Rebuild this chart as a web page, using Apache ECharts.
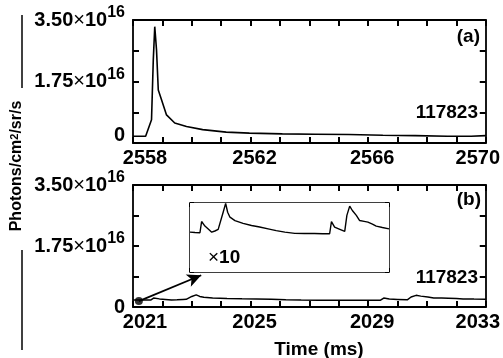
<!DOCTYPE html>
<html>
<head>
<meta charset="utf-8">
<script src="https://cdn.jsdelivr.net/npm/echarts@6/dist/echarts.min.js"></script>
<style>
html,body{margin:0;padding:0;background:#fff;}
#c{width:503px;height:358px;}
</style>
</head>
<body>
<div id="c"></div>
<script>
// ---- data ----
var timeA = [2558.0, 2558.43, 2558.63, 2558.69, 2558.74, 2558.80, 2558.86, 2558.97, 2559.14, 2559.42, 2559.82, 2560.37, 2561.17, 2561.96, 2563.08, 2564.2, 2565.34, 2566.5, 2567.6, 2568.7, 2569.5, 2570.0];
var fluxA = [0.19e16, 0.19e16, 0.66e16, 2.36e16, 3.31e16, 2.65e16, 1.51e16, 1.23e16, 0.80e16, 0.57e16, 0.47e16, 0.38e16, 0.31e16, 0.28e16, 0.26e16, 0.25e16, 0.24e16, 0.22e16, 0.21e16, 0.19e16, 0.19e16, 0.21e16];
var timeB = [2021.0, 2021.3, 2021.6, 2021.7, 2021.9, 2022.1, 2022.31, 2022.5, 2022.7, 2022.81, 2023.0, 2023.15, 2023.27, 2023.41, 2023.71, 2024.2, 2024.71, 2025.2, 2025.71, 2026.2, 2026.72, 2027.32, 2027.9, 2028.5, 2029.0, 2029.42, 2029.53, 2029.72, 2030.0, 2030.33, 2030.46, 2030.63, 2030.79, 2031.03, 2031.23, 2031.5, 2031.73, 2032.0, 2032.23, 2032.6, 2033.0];
var fluxB = [0.202e16, 0.200e16, 0.199e16, 0.256e16, 0.233e16, 0.218e16, 0.202e16, 0.208e16, 0.216e16, 0.219e16, 0.303e16, 0.348e16, 0.303e16, 0.278e16, 0.261e16, 0.247e16, 0.236e16, 0.228e16, 0.219e16, 0.210e16, 0.202e16, 0.196e16, 0.195e16, 0.195e16, 0.194e16, 0.194e16, 0.256e16, 0.228e16, 0.218e16, 0.206e16, 0.287e16, 0.334e16, 0.312e16, 0.287e16, 0.261e16, 0.257e16, 0.253e16, 0.243e16, 0.233e16, 0.226e16, 0.219e16];
var xRangeA = [2558, 2570];
var xRangeB = [2021, 2033];
var yRange = [0, 3.5e16];
var yRangeInset = [0, 0.35e16];
var xLabelStep = 4;
var markerPoint = [2021.2, 0.17e16];
var arrowEnd = [2023.32, 0.91e16];
var shotLabel = '117823';
var panelLabels = ['(a)', '(b)'];
var xTitle = 'Time (ms)';

function pairs(t, v){ return t.map(function(x,i){ return [x, v[i]]; }); }

var FONT = '"Liberation Sans", Arial, Helvetica, sans-serif';
function axLine(w){ return {show:true, onZero:false, lineStyle:{color:'#000', width:w}}; }
function axTick(len, w){ return {show:true, inside:true, length:len, lineStyle:{color:'#000', width:w}}; }

// rich styles giving a vertical offset d (px, + = down) for a label
function richFor(key, d, rich){
  var base = {fontFamily:FONT, color:'#000', fontSize:20, lineHeight:20, verticalAlign:'bottom'};
  var pad = d >= 0 ? [2*d,0,0,0] : [0,0,-2*d,0];
  rich[key+'b'] = Object.assign({}, base, {fontWeight:'bold', padding:pad});
  rich[key+'x'] = Object.assign({}, base, {fontWeight:'normal', padding:pad});
  rich[key+'s'] = {fontFamily:FONT, color:'#000', fontSize:16, fontWeight:'bold', lineHeight:14,
                   verticalAlign:'bottom', padding:[0,0,9,0]};
}
function makeYLabels(offTop, offMid, offZero){
  var rich = {};
  richFor('t', offTop, rich); richFor('m', offMid, rich); richFor('z', offZero, rich);
  var fmt = function(v){
    if (Math.abs(v) < 1) return '{zb|0}';
    if (Math.abs(v - 1.75e16) < 1e12) return '{mb|1.75}{mx|×}{mb|10}{ms|16}';
    if (Math.abs(v - 3.5e16) < 1e12) return '{tb|3.50}{tx|×}{tb|10}{ts|16}';
    return '';
  };
  return {rich:rich, fmt:fmt};
}
var yLabA = makeYLabels(5, 7, -4);
var yLabB = makeYLabels(9, 1, 0);

var xRich = {
  f:{fontFamily:FONT, fontWeight:'bold', fontSize:20, color:'#000', padding:[0,0,0,24]},
  m:{fontFamily:FONT, fontWeight:'bold', fontSize:20, color:'#000', padding:[0,0,0,8]},
  l:{fontFamily:FONT, fontWeight:'bold', fontSize:20, color:'#000', padding:[0,16,0,0]}
};
function mkX(grid, range, pos, labels){
  return {
    type:'value', gridIndex:grid, min:range[0], max:range[1], interval:1, position:pos,
    axisLine:axLine(1.8), splitLine:{show:false}, axisTick:axTick(6, 2),
    axisLabel:{show:labels, margin:5, rich:xRich,
      formatter:function(v){
        var r = Math.round(v);
        if ((r - range[0]) % xLabelStep !== 0) return '';
        var k = r === range[0] ? 'f' : (r === range[1] ? 'l' : 'm');
        return '{' + k + '|' + r + '}';
      }}
  };
}
function mkY(grid, pos, labels, lab){
  return {
    type:'value', gridIndex:grid, min:yRange[0], max:yRange[1], interval:0.875e16, position:pos,
    axisLine:axLine(1.8), splitLine:{show:false}, axisTick:axTick(6, 2),
    axisLabel:{show:labels, margin:8, formatter:lab.fmt, rich:lab.rich}
  };
}
function mkInsetX(pos){
  return {
    type:'value', gridIndex:2, min:xRangeB[0], max:xRangeB[1], interval:2, position:pos,
    axisLine:axLine(1.5), splitLine:{show:false}, axisTick:axTick(4, 2),
    axisLabel:{show:false}
  };
}
function mkInsetY(pos){
  return {
    type:'value', gridIndex:2, min:yRangeInset[0], max:yRangeInset[1], interval:0.0875e16, position:pos,
    axisLine:axLine(1.5), splitLine:{show:false}, axisTick:axTick(4, 2),
    axisLabel:{show:false}
  };
}

var chart = echarts.init(document.getElementById('c'), null, {renderer:'canvas'});
var txt = {fontFamily:FONT, fontWeight:'bold', fontSize:19, fill:'#000'};
function T(x, y, text, align, extra){
  var s = Object.assign({}, txt, {x:x, y:y, text:text, textAlign:align||'left', textVerticalAlign:'middle'}, extra||{});
  return {type:'text', style:s, z:100};
}
chart.setOption({
  animation:false,
  backgroundColor:'#fff',
  grid:[
    {left:133, top:20, width:355, height:123},
    {left:133, top:185, width:355, height:122},
    {left:190, top:203, width:199, height:69, backgroundColor:'#fff', show:true, borderWidth:0, z:5}
  ],
  xAxis:[ mkX(0, xRangeA, 'bottom', true), mkX(0, xRangeA, 'top', false),
          mkX(1, xRangeB, 'bottom', true), mkX(1, xRangeB, 'top', false),
          mkInsetX('bottom'), mkInsetX('top') ],
  yAxis:[ mkY(0,'left',true,yLabA), mkY(0,'right',false,yLabA), mkY(1,'left',true,yLabB), mkY(1,'right',false,yLabB),
          mkInsetY('left'), mkInsetY('right') ],
  series:[
    {type:'line', xAxisIndex:0, yAxisIndex:0, data:pairs(timeA, fluxA), showSymbol:false, symbol:'none',
     lineStyle:{color:'#000', width:1.6}},
    {type:'line', xAxisIndex:2, yAxisIndex:2, data:pairs(timeB, fluxB), showSymbol:false, symbol:'none',
     lineStyle:{color:'#000', width:1.5},
     markLine:{silent:true, symbol:['none','arrow'], symbolSize:[10,14], label:{show:false},
       lineStyle:{color:'#000', width:1.8, type:'solid'},
       data:[[{coord:markerPoint}, {coord:arrowEnd}]]}},
    {type:'scatter', xAxisIndex:2, yAxisIndex:2, data:[markerPoint], symbol:'circle', symbolSize:8,
     itemStyle:{color:'#000'}, z:10},
    {type:'line', xAxisIndex:4, yAxisIndex:4, data:pairs(timeB, fluxB), showSymbol:false, symbol:'none',
     lineStyle:{color:'#000', width:1.4}, z:10}
  ],
  graphic:[
    T(480, 37, panelLabels[0], 'right'),
    T(481, 200, panelLabels[1], 'right'),
    T(478, 113, shotLabel, 'right'),
    T(478, 278, shotLabel, 'right'),
    {type:'text', z:100, style:{x:208, y:258, textVerticalAlign:'middle',
      rich:{n:{fontFamily:FONT, fontSize:19, fill:'#000'}, b:{fontFamily:FONT, fontWeight:'bold', fontSize:19, fill:'#000'}},
      text:'{n|×}{b|10}'}},
    T(319, 350, xTitle, 'center'),
    {type:'text', z:100, x:17, y:166, rotation:Math.PI/2,
     style:{x:0, y:0, textAlign:'center', textVerticalAlign:'middle',
      rich:{t:{fontFamily:FONT, fontWeight:'bold', fontSize:16, fill:'#000'},
            s:{fontFamily:FONT, fontWeight:'bold', fontSize:11, fill:'#000', verticalAlign:'top'}},
      text:'{t|Photons/cm}{s|2}{t|/sr/s}'}},
    {type:'line', z:100, shape:{x1:22, y1:15, x2:22, y2:88}, style:{stroke:'#000', lineWidth:1.5}},
    {type:'line', z:100, shape:{x1:22, y1:250, x2:22, y2:350}, style:{stroke:'#000', lineWidth:1.5}}
  ]
});
</script>
</body>
</html>
